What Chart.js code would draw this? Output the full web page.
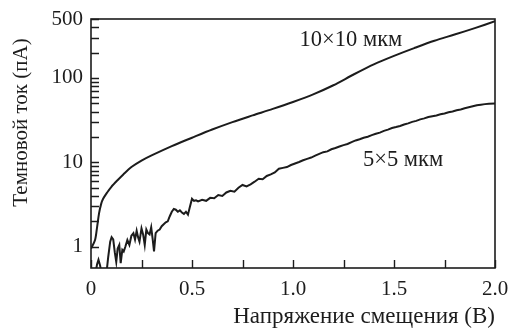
<!DOCTYPE html>
<html>
<head>
<meta charset="utf-8">
<script src="https://cdn.jsdelivr.net/npm/chart.js@4"></script>
<style>
    html, body { margin: 0; padding: 0; background: #fff; }
</style>
</head>
<body>
<canvas id="grafico" width="509" height="333"></canvas>
<script>
// Темновой ток vs напряжение смещения, два размера пикселя (лог. шкала)

const v10 = [0, 0.02, 0.03, 0.04, 0.05, 0.06, 0.08, 0.10, 0.13, 0.16, 0.20, 0.25, 0.30, 0.40, 0.50,
    0.60, 0.70, 0.80, 0.90, 1.00, 1.10, 1.20, 1.30, 1.40, 1.50, 1.60, 1.70, 1.80, 1.90, 2.00];
const i10 = [0.95, 1.2, 1.7, 2.5, 3.2, 3.7, 4.4, 5.1, 6.1, 7.2, 8.8, 10.5, 12.1, 15.6, 19.6,
    24.5, 30, 36, 43, 52, 64, 82, 110, 145, 183, 226, 276, 327, 390, 470];

const v5 = [0.02, 0.03, 0.037, 0.045, 0.055, 0.075, 0.085, 0.095, 0.102, 0.11, 0.118, 0.125, 0.132, 0.14,
    0.147, 0.155, 0.162, 0.17, 0.18, 0.19, 0.2, 0.21, 0.218, 0.226, 0.233, 0.24, 0.25, 0.258, 0.266, 0.274,
    0.282, 0.29, 0.298, 0.305, 0.312, 0.32, 0.33, 0.34, 0.35, 0.36, 0.37, 0.38, 0.39, 0.40, 0.41, 0.42,
    0.43, 0.44, 0.45, 0.46, 0.47, 0.48, 0.49, 0.50, 0.51, 0.52, 0.53, 0.55, 0.57, 0.59, 0.61, 0.63, 0.65,
    0.67, 0.69, 0.71, 0.73, 0.75, 0.77, 0.79, 0.81, 0.83, 0.85, 0.87, 0.89, 0.91, 0.93, 0.95, 0.97, 0.99,
    1.01, 1.03, 1.05, 1.07, 1.09, 1.11, 1.13, 1.15, 1.17, 1.19, 1.21, 1.23, 1.25, 1.27, 1.29, 1.31, 1.33,
    1.35, 1.37, 1.39, 1.41, 1.43, 1.45, 1.47, 1.49, 1.51, 1.53, 1.55, 1.57, 1.59, 1.61, 1.63, 1.65, 1.67,
    1.69, 1.71, 1.73, 1.75, 1.77, 1.79, 1.81, 1.83, 1.85, 1.87, 1.89, 1.91, 1.93, 1.95, 1.97, 2.00];
const i5 = [0.45, 0.62, 0.70, 0.6, 0.45, 0.45, 0.75, 1.15, 1.3, 1.22, 0.85, 0.66, 0.95, 1.05,
    0.64, 0.92, 0.88, 1.0, 1.2, 1.05, 1.35, 1.45, 1.22, 1.55, 1.3, 1.15, 1.65, 1.4, 1.05, 1.6,
    1.45, 1.4, 1.7, 1.25, 0.88, 1.45, 1.55, 1.6, 1.75, 1.85, 1.95, 2.0, 2.3, 2.6, 2.8, 2.75,
    2.6, 2.7, 2.55, 2.45, 2.6, 2.4, 3.0, 3.7, 3.5, 3.55, 3.45, 3.6, 3.5, 3.8, 3.75, 4.1, 4.0,
    4.4, 4.6, 4.5, 5.0, 5.4, 5.2, 5.5, 5.9, 6.4, 6.3, 6.9, 7.2, 7.6, 8.4, 8.6, 8.8, 9.3,
    9.7, 10.1, 10.6, 11.0, 11.4, 12.0, 12.6, 13.2, 13.5, 14.3, 14.8, 15.4, 16.0, 16.5, 17.4, 18.2, 18.8,
    19.6, 20.1, 21.0, 21.8, 22.5, 23.6, 24.4, 25.5, 26.2, 27.0, 28.1, 29.0, 30.2, 31.0, 32.3, 33.2, 34.4,
    35.2, 36.0, 37.1, 38.0, 39.3, 40.0, 41.5, 42.4, 43.8, 45.0, 46.2, 47.5, 48.3, 49.0, 49.6, 50.0];

const xTickValues = [0, 0.25, 0.5, 0.75, 1.0, 1.25, 1.5, 1.75, 2.0];
const xTickLabels = ['0', '', '0.5', '', '1.0', '', '1.5', '', '2.0'];
const yTickValues = [1, 2, 3, 4, 5, 6, 7, 8, 9, 10, 20, 30, 40, 50, 60, 70, 80, 90, 100, 200, 300, 400, 500];
const yTickLabels = [1, 10, 100, 500];

const seriesLabels = ['10×10 мкм', '5×5 мкм'];
const labelPos = [[1.287, 282], [1.545, 10.7]];

const FONT = 'Liberation Serif';
const INK = '#1c1c1c';

function pontos(xs, ys) {
    return xs.map((x, k) => ({ x: x, y: ys[k] }));
}

// Moldura, marcas internas e rótulos
const extras = {
    id: 'extras',
    afterDatasetsDraw(chart) {
        const { ctx, chartArea: a, scales: { x, y } } = chart;
        ctx.save();
        ctx.strokeStyle = INK;
        ctx.lineWidth = 1.6;
        ctx.strokeRect(a.left, a.top, a.right - a.left, a.bottom - a.top);

        ctx.beginPath();
        xTickValues.forEach(v => {
            const px = Math.round(x.getPixelForValue(v)) + 0.5;
            ctx.moveTo(px, a.bottom);
            ctx.lineTo(px, a.bottom - 8);
        });
        yTickValues.forEach(v => {
            const py = Math.round(y.getPixelForValue(v)) + 0.5;
            ctx.moveTo(a.left, py);
            ctx.lineTo(a.left + 8, py);
        });
        ctx.lineWidth = 1.4;
        ctx.stroke();

        ctx.fillStyle = INK;
        ctx.font = '22.5px "' + FONT + '"';
        ctx.textAlign = 'center';
        ctx.textBaseline = 'middle';
        seriesLabels.forEach((t, k) => {
            ctx.fillText(t, x.getPixelForValue(labelPos[k][0]), y.getPixelForValue(labelPos[k][1]));
        });

        // título do eixo y
        ctx.translate(21, 122.5);
        ctx.rotate(-Math.PI / 2);
        ctx.font = '21px "' + FONT + '"';
        ctx.fillText('Темновой ток (пА)', 0, 0);
        ctx.restore();
    }
};

const grafico = new Chart(document.getElementById('grafico'), {
    type: 'line',
    data: {
        datasets: [
            {
                label: seriesLabels[0],
                data: pontos(v10, i10),
                borderColor: INK,
                borderWidth: 2,
                pointRadius: 0,
                tension: 0.3,
                fill: false
            },
            {
                label: seriesLabels[1],
                data: pontos(v5, i5),
                borderColor: INK,
                borderWidth: 2,
                pointRadius: 0,
                tension: 0,
                fill: false
            }
        ]
    },
    options: {
        responsive: false,
        animation: false,
        layout: { padding: { top: 19, right: 14, left: 0, bottom: 0 } },
        plugins: {
            legend: { display: false },
            tooltip: { enabled: false }
        },
        scales: {
            x: {
                type: 'linear',
                min: 0,
                max: 2,
                grid: { display: false, drawTicks: false },
                border: { display: false },
                afterBuildTicks: s => { s.ticks = xTickValues.map(v => ({ value: v })); },
                afterFit: s => { s.height = 65; s.paddingLeft = 0; s.paddingRight = 0; },
                ticks: {
                    autoSkip: false,
                    maxRotation: 0,
                    padding: 9,
                    color: INK,
                    font: { family: FONT, size: 21 },
                    callback: (v, k) => xTickLabels[k]
                },
                title: {
                    display: true,
                    text: 'Напряжение смещения (В)',
                    align: 'end',
                    color: INK,
                    font: { family: FONT, size: 23 },
                    padding: { top: 0, bottom: 2 }
                }
            },
            y: {
                type: 'logarithmic',
                min: 0.56,
                max: 500,
                grid: { display: false, drawTicks: false },
                border: { display: false },
                afterBuildTicks: s => { s.ticks = yTickValues.map(v => ({ value: v })); },
                afterFit: s => { s.width = 91; s.paddingTop = 0; s.paddingBottom = 0; },
                ticks: {
                    autoSkip: false,
                    padding: 8,
                    color: INK,
                    font: { family: FONT, size: 21 },
                    callback: v => yTickLabels.includes(v) ? String(v) : ''
                }
            }
        }
    },
    plugins: [extras]
});
</script>
</body>
</html>
